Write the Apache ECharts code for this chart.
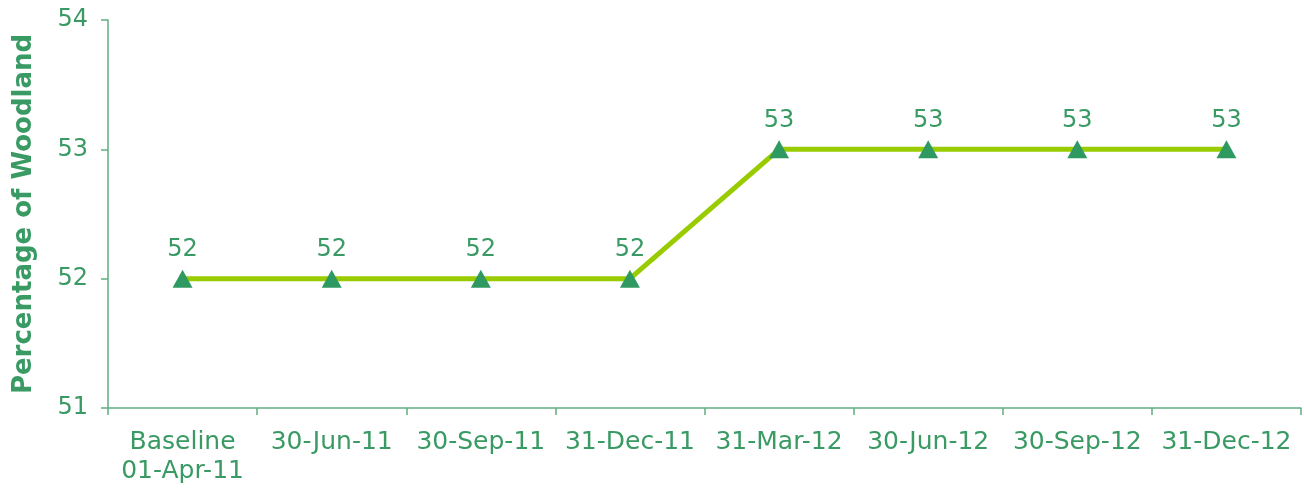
<!DOCTYPE html>
<html>
<head>
<meta charset="utf-8">
<script src="https://cdn.jsdelivr.net/npm/echarts@6/dist/echarts.min.js"></script>
<style>html,body{margin:0;padding:0;background:#fff}#c{width:1304px;height:488px}</style>
</head>
<body>
<div id="c"></div>
<script>
const categories = ['Baseline\n01-Apr-11','30-Jun-11','30-Sep-11','31-Dec-11','31-Mar-12','30-Jun-12','30-Sep-12','31-Dec-12'];
const woodland = [52,52,52,52,53,53,53,53];
const yTicks = {min:51, max:54, interval:1};
const textColor = '#3a9a64';
const axisColor = '#5fae80';
const font = 'DejaVu Sans, Verdana, sans-serif';
const chart = echarts.init(document.getElementById('c'));
chart.setOption({
  animation:false,
  grid:{left:108, right:3, top:20, bottom:80, containLabel:false, outerBoundsMode:'none'},
  xAxis:{
    type:'category', data:categories, boundaryGap:true,
    axisLine:{lineStyle:{color:axisColor, width:1.5}},
    axisTick:{show:true, length:7, lineStyle:{color:axisColor, width:1.5}},
    axisLabel:{color:textColor, fontFamily:font, fontSize:25, margin:20, lineHeight:29, interval:0}
  },
  yAxis:{
    type:'value', min:yTicks.min, max:yTicks.max, interval:yTicks.interval,
    name:'Percentage of Woodland', nameLocation:'middle', nameGap:71, nameRotate:90,
    nameTextStyle:{color:textColor, fontFamily:font, fontSize:26, fontWeight:'bold'},
    axisLine:{show:true, lineStyle:{color:axisColor, width:1.5}},
    axisTick:{show:true, length:7, lineStyle:{color:axisColor, width:1.5}},
    splitLine:{show:false},
    axisLabel:{color:textColor, fontFamily:font, fontSize:24, margin:20}
  },
  series:[{
    type:'line', data:woodland,
    symbol:'triangle', symbolSize:[20,18],
    itemStyle:{color:'#2e9a62'},
    lineStyle:{color:'#99cc00', width:5},
    label:{show:true, position:'top', distance:8, color:textColor, fontFamily:font, fontSize:24}
  }]
});
</script>
</body>
</html>
